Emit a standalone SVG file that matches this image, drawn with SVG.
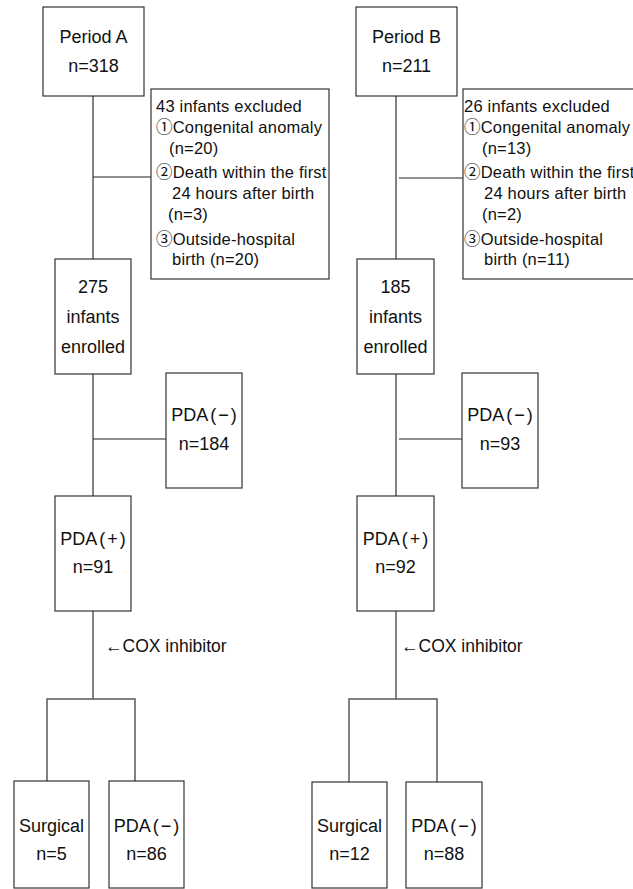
<svg xmlns="http://www.w3.org/2000/svg" width="633" height="889" viewBox="0 0 633 889">
<style>
.box{fill:#fff;stroke:#333;stroke-width:1.2}
.ln{stroke:#5a5a5a;stroke-width:1.5;fill:none}
.hl{stroke:#222;stroke-width:1.1;fill:none}
text{font-family:"Liberation Sans","Noto Sans CJK KR",sans-serif;font-size:18px;fill:#111}
.c{text-anchor:middle}
.ex{font-size:16.5px;letter-spacing:0.2px}
.p{letter-spacing:2px}
.cox{font-size:17.5px}
</style>
<rect width="633" height="889" fill="#fff"/>
<g id="connectors">
<path class="ln" d="M93 96V259M93 374V496M93 611V699M47 781V699H135V781"/>
<path class="hl" d="M93 177H151M93 439H166"/>
<path class="ln" d="M396 96V259M396 374V496M396 611V699M349 782V699H437V782"/>
<path class="hl" d="M399 178H463M399 439H462"/>
</g>
<g id="periodA"><rect class="box" x="43" y="7" width="101" height="89"/><text class="c" x="93.5" y="43">Period A</text><text class="c" x="93.5" y="72">n=318</text></g>
<g id="excludedA"><rect class="box" x="151" y="89" width="178" height="190"/>
<text class="ex" x="156" y="112">43 infants excluded</text>
<text class="ex" x="156" y="133">①Congenital anomaly</text>
<text class="ex" x="169" y="154">(n=20)</text>
<text class="ex" x="156" y="178">②Death within the first</text>
<text class="ex" x="172" y="199">24 hours after birth</text>
<text class="ex" x="168" y="220">(n=3)</text>
<text class="ex" x="156" y="245">③Outside-hospital</text>
<text class="ex" x="172" y="265">birth (n=20)</text>
</g>
<g id="enrolledA"><rect class="box" x="55" y="259" width="76" height="115"/><text class="c" x="93" y="293">275</text><text class="c" x="93" y="323">infants</text><text class="c" x="93" y="353">enrolled</text></g>
<g id="pdaNegA"><rect class="box" x="166" y="373" width="76" height="115"/><text class="c" x="205" y="421">PDA<tspan class="p" dx="2">(−)</tspan></text><text class="c" x="204" y="450">n=184</text></g>
<g id="pdaPosA"><rect class="box" x="55" y="496" width="76" height="115"/><text class="c" x="94" y="545">PDA<tspan class="p" dx="2">(+)</tspan></text><text class="c" x="93" y="573">n=91</text></g>
<text class="cox" x="105" y="652">←COX inhibitor</text>
<g id="surgicalA"><rect class="box" x="14" y="781" width="75" height="107"/><text class="c" x="51.5" y="832">Surgical</text><text class="c" x="51.5" y="860">n=5</text></g>
<g id="pdaNegA2"><rect class="box" x="109" y="781" width="75" height="107"/><text class="c" x="147.5" y="832">PDA<tspan class="p" dx="2">(−)</tspan></text><text class="c" x="146.5" y="860">n=86</text></g>

<g id="periodB"><rect class="box" x="356" y="7" width="101" height="89"/><text class="c" x="406.5" y="43">Period B</text><text class="c" x="406.5" y="72">n=211</text></g>
<g id="excludedB"><rect class="box" x="463" y="89" width="180" height="190"/>
<text class="ex" x="464" y="112">26 infants excluded</text>
<text class="ex" x="464" y="133">①Congenital anomaly</text>
<text class="ex" x="482" y="154">(n=13)</text>
<text class="ex" x="464" y="178">②Death within the first</text>
<text class="ex" x="484" y="199">24 hours after birth</text>
<text class="ex" x="482" y="220">(n=2)</text>
<text class="ex" x="464" y="245">③Outside-hospital</text>
<text class="ex" x="484" y="265">birth (n=11)</text>
</g>
<g id="enrolledB"><rect class="box" x="357" y="259" width="77" height="115"/><text class="c" x="395.5" y="293">185</text><text class="c" x="395.5" y="323">infants</text><text class="c" x="395.5" y="353">enrolled</text></g>
<g id="pdaNegB"><rect class="box" x="462" y="373" width="76" height="115"/><text class="c" x="501" y="421">PDA<tspan class="p" dx="2">(−)</tspan></text><text class="c" x="500" y="450">n=93</text></g>
<g id="pdaPosB"><rect class="box" x="357" y="496" width="77" height="115"/><text class="c" x="396.5" y="545">PDA<tspan class="p" dx="2">(+)</tspan></text><text class="c" x="395.5" y="573">n=92</text></g>
<text class="cox" x="401" y="652">←COX inhibitor</text>
<g id="surgicalB"><rect class="box" x="312" y="782" width="75" height="106"/><text class="c" x="349.5" y="832">Surgical</text><text class="c" x="349.5" y="860">n=12</text></g>
<g id="pdaNegB2"><rect class="box" x="406" y="782" width="76" height="106"/><text class="c" x="445" y="832">PDA<tspan class="p" dx="2">(−)</tspan></text><text class="c" x="444" y="860">n=88</text></g>
</svg>
